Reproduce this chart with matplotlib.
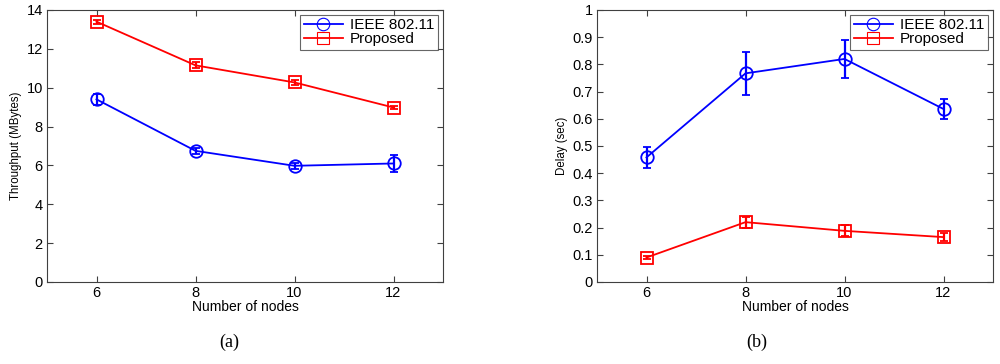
import matplotlib
matplotlib.use("Agg")
import matplotlib.pyplot as plt

nodes = [6, 8, 10, 12]
thr_ieee = [9.4, 6.75, 5.98, 6.1]
thr_ieee_err = [0.3, 0.15, 0.15, 0.45]
thr_prop = [13.4, 11.15, 10.27, 8.98]
thr_prop_err = [0.1, 0.15, 0.15, 0.08]
del_ieee = [0.458, 0.767, 0.82, 0.636]
del_ieee_err = [0.04, 0.08, 0.07, 0.036]
del_prop = [0.09, 0.22, 0.188, 0.165]
del_prop_err = [0.005, 0.02, 0.02, 0.015]

plt.rcParams['font.family'] = ['Liberation Sans', 'DejaVu Sans']

fig = plt.figure(figsize=(10, 3.64), dpi=100)
ax1 = fig.add_axes([0.047, 0.2253, 0.396, 0.7473])
ax2 = fig.add_axes([0.597, 0.2253, 0.396, 0.7473])

def draw(ax, y1, e1, y2, e2, ylim, yticks, ylabel, ytl):
    ax.errorbar(nodes, y1, yerr=e1, color='#0000ff', marker='o', markersize=9,
                markerfacecolor='none', markeredgewidth=1.3, linewidth=1.3,
                elinewidth=1.6, capsize=3, capthick=1.6, label='IEEE 802.11')
    ax.errorbar(nodes, y2, yerr=e2, color='#ff0000', marker='s', markersize=8,
                markerfacecolor='none', markeredgewidth=1.3, linewidth=1.3,
                elinewidth=1.6, capsize=3, capthick=1.6, label='Proposed')
    ax.set_xlim(5, 13)
    ax.set_ylim(*ylim)
    ax.set_xticks(nodes)
    ax.set_yticks(yticks)
    ax.set_yticklabels(ytl)
    ax.tick_params(direction='in', top=True, right=True, labelsize=10.5, length=4,
                   color='#404040', pad=3)
    for s in ax.spines.values():
        s.set_color('#404040')
        s.set_linewidth(0.8)
    ax.set_xlabel('Number of nodes', fontsize=10, labelpad=0)
    ax.set_ylabel(ylabel, fontsize=8.3, labelpad=3)
    handles, labels = ax.get_legend_handles_labels()
    h = [hh[0] for hh in handles]
    leg = ax.legend(h, labels, loc='upper right', fontsize=11, frameon=True, fancybox=False,
                    edgecolor='#404040', borderaxespad=0.3, handlelength=2.6,
                    handletextpad=0.45, borderpad=0.25, labelspacing=0.0)
    leg.get_frame().set_linewidth(0.8)
    for lh in leg.legend_handles:
        lh.set_markeredgewidth(0.8)

draw(ax1, thr_ieee, thr_ieee_err, thr_prop, thr_prop_err, (0, 14), range(0, 15, 2),
     'Throughput (MBytes)', [str(v) for v in range(0, 15, 2)])
yt = [i / 10 for i in range(11)]
draw(ax2, del_ieee, del_ieee_err, del_prop, del_prop_err, (0, 1), yt,
     'Delay (sec)', ['0'] + ['%.1f' % v for v in yt[1:-1]] + ['1'])

fig.text(0.229, 0.035, '(a)', ha='center', va='bottom', fontsize=13, family='Liberation Serif')
fig.text(0.757, 0.035, '(b)', ha='center', va='bottom', fontsize=13, family='Liberation Serif')

fig.savefig('out.png', dpi=100)
